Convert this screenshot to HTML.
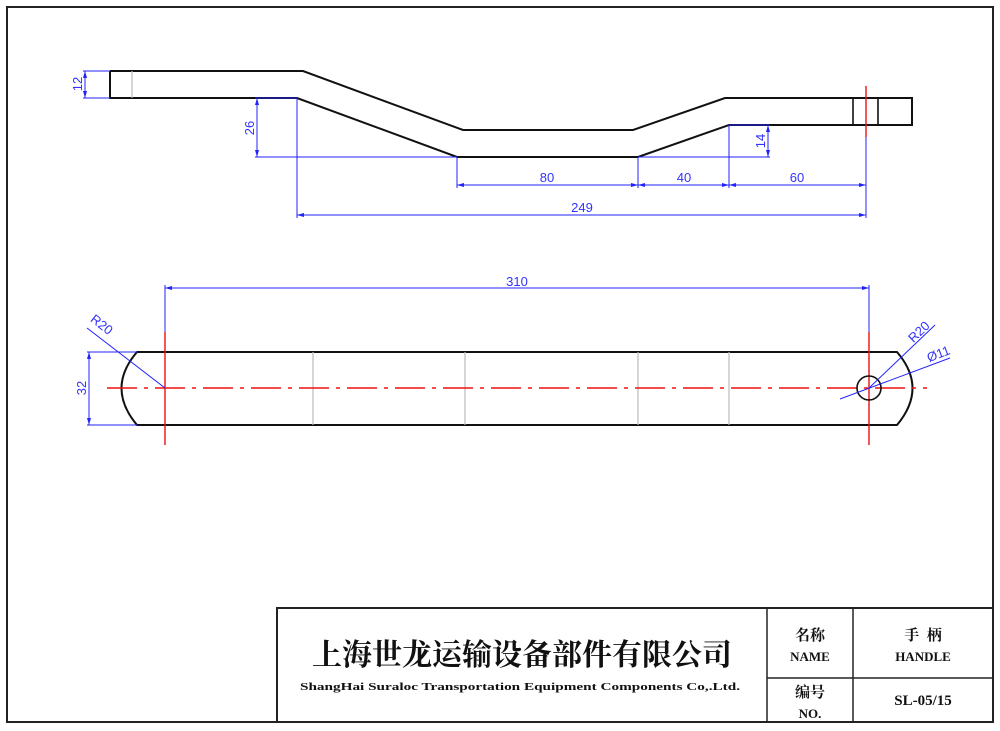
<!DOCTYPE html>
<html><head><meta charset="utf-8"><style>
html,body{margin:0;padding:0;background:#fff;width:1000px;height:731px;overflow:hidden}
svg{display:block}
.k{stroke:#111;stroke-width:2;fill:none}
.g{stroke:#bbb;stroke-width:1.2;fill:none}
.b{stroke:#2222ff;stroke-width:1;fill:none}
.r{stroke:#ee1111;stroke-width:1.4;fill:none}
.bt{fill:#3333ff;font-family:"Liberation Sans",sans-serif;font-size:13px}
.tt{font-family:"Liberation Serif","Noto Serif CJK SC",serif;font-weight:bold;fill:#111}
</style></head><body>
<svg width="1000" height="731" viewBox="0 0 1000 731">
<rect x="7" y="7" width="986" height="715" fill="none" stroke="#222" stroke-width="2"/>
<!-- top view -->
<polyline class="k" points="110,71 303,71 463,130 633,130 725,98 912,98 912,125 729,125 638,157 457,157 297,98 110,98 110,71"/>
<line class="g" x1="132" y1="71" x2="132" y2="98"/>
<line class="k" x1="853" y1="98" x2="853" y2="125" style="stroke-width:1.6"/>
<line class="k" x1="878" y1="98" x2="878" y2="125" style="stroke-width:1.6"/>
<line class="r" x1="866" y1="86" x2="866" y2="137"/>
<g class="b">
<line x1="866" y1="137" x2="866" y2="218"/>
<line x1="83" y1="71" x2="110" y2="71"/><line x1="83" y1="98" x2="110" y2="98"/><line x1="85" y1="71" x2="85" y2="98"/>
<line x1="255" y1="98" x2="297" y2="98"/><line x1="255" y1="157" x2="457" y2="157"/><line x1="257" y1="98" x2="257" y2="157"/>
<line x1="729" y1="125" x2="770" y2="125"/><line x1="638" y1="157" x2="770" y2="157"/><line x1="768" y1="125" x2="768" y2="157"/>
<line x1="457" y1="157" x2="457" y2="188"/><line x1="638" y1="157" x2="638" y2="188"/><line x1="729" y1="125" x2="729" y2="188"/>
<line x1="457" y1="185" x2="866" y2="185"/>
<line x1="297" y1="98" x2="297" y2="218"/><line x1="297" y1="215" x2="866" y2="215"/>
</g>
<g fill="#2222ff">
<path d="M85,71 l-2,7 h4z M85,98 l-2,-7 h4z M257,98 l-2,7 h4z M257,157 l-2,-7 h4z M768,125 l-2,7 h4z M768,157 l-2,-7 h4z"/>
<path d="M457,185 l7,-2 v4z M638,185 l-7,-2 v4z M638,185 l7,-2 v4z M729,185 l-7,-2 v4z M729,185 l7,-2 v4z M866,185 l-7,-2 v4z M297,215 l7,-2 v4z M866,215 l-7,-2 v4z"/>
</g>
<text class="bt" transform="translate(82,84) rotate(-90)" text-anchor="middle">12</text>
<text class="bt" transform="translate(254,128) rotate(-90)" text-anchor="middle">26</text>
<text class="bt" transform="translate(765,141) rotate(-90)" text-anchor="middle">14</text>
<text class="bt" x="547" y="182" text-anchor="middle">80</text>
<text class="bt" x="684" y="182" text-anchor="middle">40</text>
<text class="bt" x="797" y="182" text-anchor="middle">60</text>
<text class="bt" x="582" y="212" text-anchor="middle">249</text>
<!-- bottom view -->
<path class="k" d="M137,352 H897 Q928,388 897,425 H137 Q106,388 137,352 Z"/>
<g class="g"><line x1="313" y1="352" x2="313" y2="425"/><line x1="465" y1="352" x2="465" y2="425"/><line x1="638" y1="352" x2="638" y2="425"/><line x1="729" y1="352" x2="729" y2="425"/></g>
<line class="r" x1="107" y1="388" x2="927" y2="388" stroke-dasharray="30,7,4,7"/>
<line class="r" x1="165" y1="332" x2="165" y2="445"/>
<line class="r" x1="869" y1="332" x2="869" y2="445"/>
<circle cx="869" cy="388" r="12" class="k" style="stroke-width:1.6"/>
<g class="b">
<line x1="165" y1="285" x2="165" y2="332"/><line x1="869" y1="285" x2="869" y2="332"/><line x1="165" y1="288" x2="869" y2="288"/>
<line x1="87" y1="352" x2="137" y2="352"/><line x1="87" y1="425" x2="137" y2="425"/><line x1="89" y1="352" x2="89" y2="425"/>
<line x1="87" y1="328" x2="165" y2="388"/>
<line x1="869" y1="388" x2="935" y2="325"/>
<line x1="840" y1="399" x2="950" y2="358"/>
</g>
<g fill="#2222ff"><path d="M165,288 l7,-2 v4z M869,288 l-7,-2 v4z M89,352 l-2,7 h4z M89,425 l-2,-7 h4z"/></g>
<text class="bt" x="517" y="286" text-anchor="middle">310</text>
<text class="bt" transform="translate(86,388) rotate(-90)" text-anchor="middle">32</text>
<text class="bt" transform="translate(99,328) rotate(38)" text-anchor="middle">R20</text>
<text class="bt" transform="translate(922,335) rotate(-44)" text-anchor="middle">R20</text>
<text class="bt" transform="translate(940,358) rotate(-21)" text-anchor="middle">Ø11</text>
<!-- title block -->
<rect x="277" y="608" width="716" height="114" fill="none" stroke="#222" stroke-width="2"/>
<line x1="767" y1="608" x2="767" y2="722" stroke="#222" stroke-width="1.5"/>
<line x1="853" y1="608" x2="853" y2="722" stroke="#222" stroke-width="1.5"/>
<line x1="767" y1="678" x2="993" y2="678" stroke="#222" stroke-width="1.5"/>
<text x="522" y="665" text-anchor="middle" font-size="30" font-family="'Noto Serif CJK SC',serif" font-weight="bold" fill="#111">上海世龙运输设备部件有限公司</text>
<text x="520" y="690" text-anchor="middle" font-size="11" font-family="'Liberation Serif',serif" font-weight="bold" fill="#111" textLength="440" lengthAdjust="spacingAndGlyphs">ShangHai Suraloc Transportation Equipment Components Co,.Ltd.</text>
<text class="tt" x="810" y="640" text-anchor="middle" font-size="15">名称</text>
<text class="tt" x="810" y="661" text-anchor="middle" font-size="13">NAME</text>
<text class="tt" x="923" y="640" text-anchor="middle" font-size="15">手&#160;&#160;柄</text>
<text class="tt" x="923" y="661" text-anchor="middle" font-size="13">HANDLE</text>
<text class="tt" x="810" y="697" text-anchor="middle" font-size="15">编号</text>
<text class="tt" x="810" y="718" text-anchor="middle" font-size="13">NO.</text>
<text class="tt" x="923" y="705" text-anchor="middle" font-size="15">SL-05/15</text>
</svg>
</body></html>
